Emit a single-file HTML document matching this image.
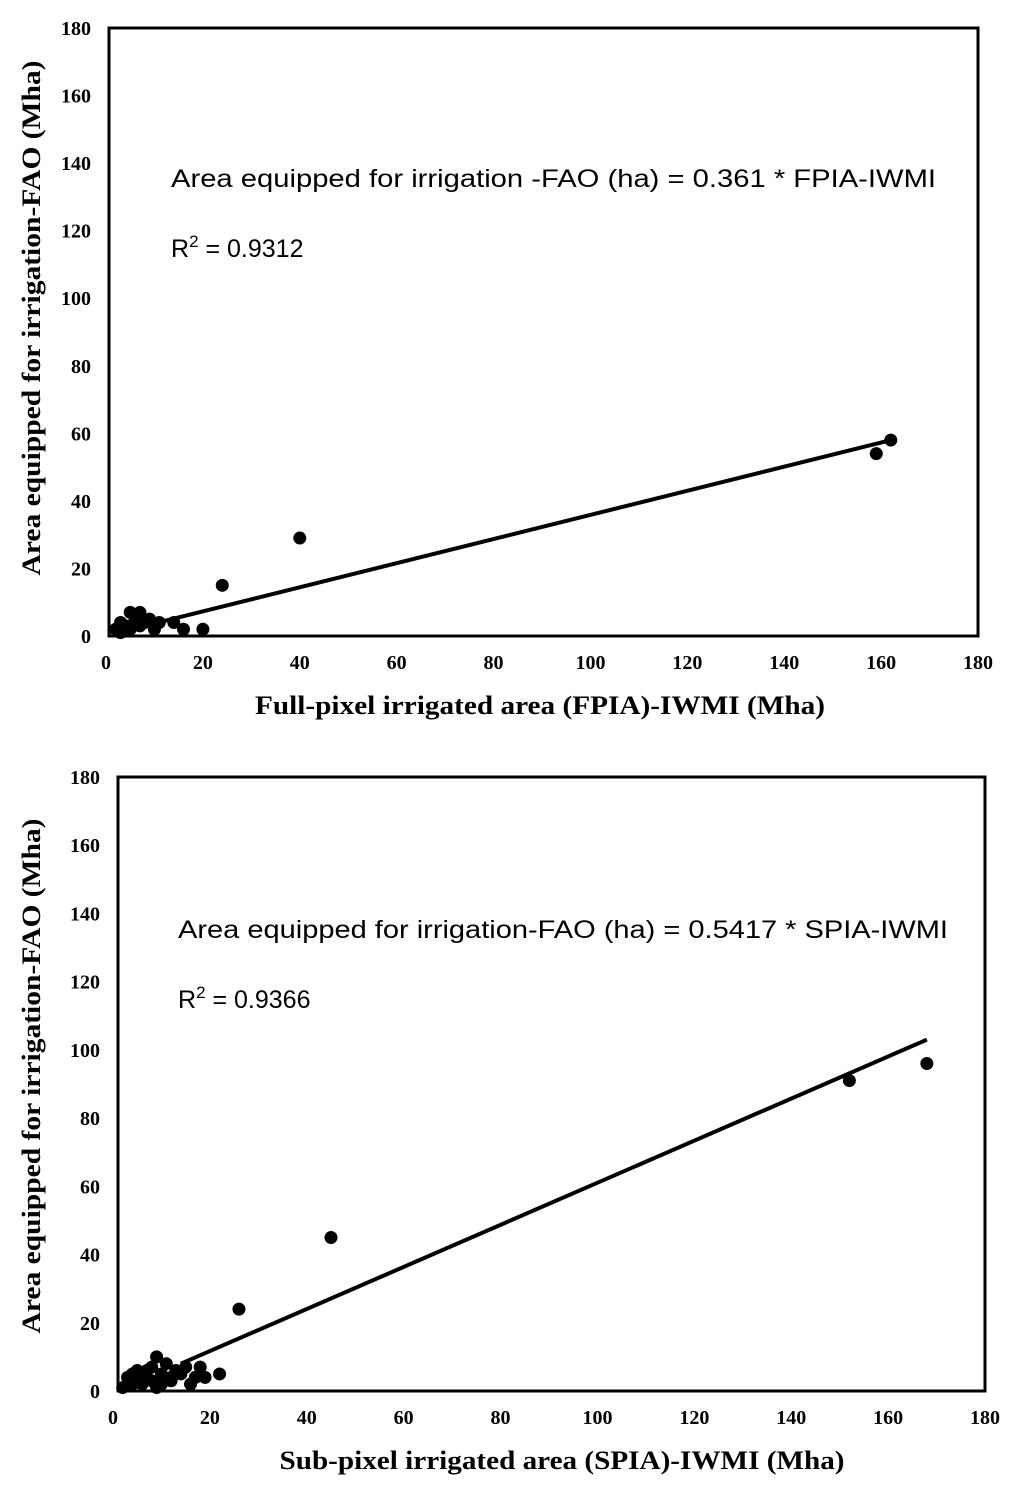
<!DOCTYPE html>
<html><head><meta charset="utf-8"><style>
body{margin:0;background:#fff;width:1024px;height:1503px;overflow:hidden}
svg{display:block}
.tk{font-family:"Liberation Serif",serif;font-weight:bold;font-size:20px}
.ax{font-family:"Liberation Serif",serif;font-weight:bold;font-size:26px}
.eq{font-family:"Liberation Sans",sans-serif;font-size:25px}
</style></head><body>
<svg id="s" width="1024" height="1503"></svg>
<script>
const xTicks=[0,20,40,60,80,100,120,140,160,180];
const yTicks=[0,20,40,60,80,100,120,140,160,180];
const p1x=[2,3,4,5,6,7,7,8,9,10,11,5,3,14,16,20,24,40,159,162];
const p1y=[2,4,3,7,5,7,3,4,5,2,4,2,1,4,2,2,15,29,54,58];
const l1x=[8,162];
const l1y=[3,58];
const p2x=[2,3,4,5,6,7,8,9,10,11,12,13,14,15,16,17,18,19,22,26,45,152,168,4,6,8,10,12,3,9];
const p2y=[1,4,2,6,4,6,3,10,5,8,4,6,5,7,2,4,7,4,5,24,45,91,96,5,2,7,2,3,2,1];
const l2x=[14,168];
const l2y=[8,103];
const NS="http://www.w3.org/2000/svg";
const svg=document.getElementById('s');
function mk(t,a,txt){const e=document.createElementNS(NS,t);for(const k in a)e.setAttribute(k,a[k]);if(txt!=null)e.textContent=txt;svg.appendChild(e);return e;}
function chart(cfg){
 const X=v=>cfg.x0+(cfg.x1-cfg.x0)*v/180, Y=v=>cfg.y0-(cfg.y0-cfg.y1)*v/180;
 const f=mk('rect',{x:cfg.fx,y:cfg.y1,width:cfg.x1-cfg.fx,height:cfg.y0-cfg.y1,fill:'none',stroke:'#000','stroke-width':3});
 
 
 xTicks.forEach(v=>{const t=mk('text',{x:X(v),y:cfg.y0+33,'text-anchor':'middle',class:'tk'},v);
  
  });
 yTicks.forEach(v=>{const t=mk('text',{x:cfg.fx-18,y:Y(v)+7,'text-anchor':'end',class:'tk'},v);
  
  });
 const ln=mk('line',{x1:X(cfg.lx[0]),y1:Y(cfg.ly[0]),x2:X(cfg.lx[1]),y2:Y(cfg.ly[1]),stroke:'#000','stroke-width':4});
 
 
 cfg.px.forEach((v,i)=>{const c=mk('circle',{cx:X(v),cy:Y(cfg.py[i]),r:6.5,fill:'#000'});
  
  });
 const xt=mk('text',{x:cfg.xtx,y:cfg.y0+78,'text-anchor':'middle',class:'ax',textLength:cfg.xtl,lengthAdjust:'spacingAndGlyphs'},cfg.xt);
 
 
 const yc=cfg.yc;
 const yt=mk('text',{x:40,y:yc,'text-anchor':'middle',class:'ax',textLength:515,lengthAdjust:'spacingAndGlyphs',transform:`rotate(-90 40 ${yc})`},'Area equipped for irrigation-FAO (Mha)');
 
 
 const e=mk('text',{x:cfg.ex,y:cfg.ey,class:'eq',textLength:cfg.el,lengthAdjust:'spacingAndGlyphs'},cfg.eq);
 
 
 const r=mk('text',{x:cfg.ex,y:cfg.ey+70,class:'eq'});
 r.innerHTML='R<tspan dy="-10" font-size="17">2</tspan><tspan dy="10"> = '+cfg.r2+'</tspan>';
 
 
}
chart({id:'fpia',fx:109,x0:106,x1:978,y0:636,y1:28,px:p1x,py:p1y,lx:l1x,ly:l1y,xt:'Full-pixel irrigated area (FPIA)-IWMI (Mha)',xtx:540,xtl:570,ex:171,ey:187,el:765,eq:'Area equipped for irrigation -FAO (ha) = 0.361 * FPIA-IWMI',r2:'0.9312',yc:318});
chart({id:'spia',fx:118,x0:113,x1:985,y0:1391,y1:777,px:p2x,py:p2y,lx:l2x,ly:l2y,xt:'Sub-pixel irrigated area (SPIA)-IWMI (Mha)',xtx:562,xtl:565,ex:178,ey:938,el:770,eq:'Area equipped for irrigation-FAO (ha) = 0.5417 * SPIA-IWMI',r2:'0.9366',yc:1076});
</script>
</body></html>
